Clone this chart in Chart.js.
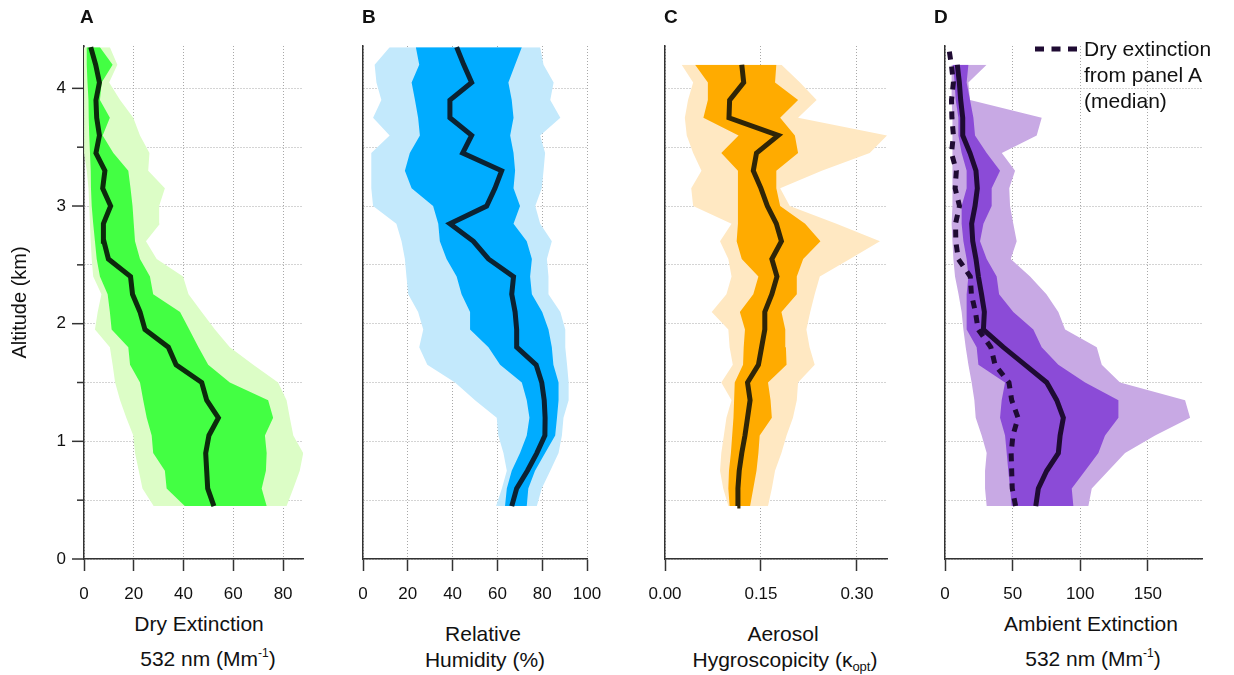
<!DOCTYPE html>
<html>
<head>
<meta charset="utf-8">
<script src="https://cdn.jsdelivr.net/npm/chart.js@4.4.1/dist/chart.umd.min.js"></script>
<style>
  body { margin: 0; background: #fff; }
  #wrap { position: relative; width: 1234px; height: 675px; overflow: hidden;
          font-family: "Liberation Sans", Arial, sans-serif; color: #111; }
  canvas { position: absolute; top: 0; }
  .letter { position: absolute; top: 6px; font-weight: bold; font-size: 19px; line-height: 22px; }
  .xt { position: absolute; width: 320px; text-align: center; font-size: 21px; line-height: 24px; white-space: nowrap; }
  .xt sup { font-size: 12px; vertical-align: 9px; line-height: 0; }
  .xt sub { font-size: 13px; vertical-align: -4px; line-height: 0; }
  .leg { position: absolute; left: 1084px; font-size: 21px; line-height: 24px; white-space: nowrap; }
</style>
</head>
<body>
<div id="wrap">
  <canvas id="chartA" width="323" height="610" style="left:0px"></canvas>
  <canvas id="chartB" width="284" height="610" style="left:333px"></canvas>
  <canvas id="chartC" width="272" height="610" style="left:635px"></canvas>
  <canvas id="chartD" width="307" height="610" style="left:915px"></canvas>

  <div class="letter" style="left:80px">A</div>
  <div class="letter" style="left:362px">B</div>
  <div class="letter" style="left:664px">C</div>
  <div class="letter" style="left:934px">D</div>

  <div class="xt" style="left:39px; top:612px">Dry Extinction</div>
  <div class="xt" style="left:48px; top:647px">532 nm (Mm<sup>-1</sup>)</div>
  <div class="xt" style="left:323px; top:622px">Relative</div>
  <div class="xt" style="left:325px; top:648px">Humidity (%)</div>
  <div class="xt" style="left:623px; top:622px">Aerosol</div>
  <div class="xt" style="left:625px; top:648px">Hygroscopicity (κ<sub>opt</sub>)</div>
  <div class="xt" style="left:931px; top:612px">Ambient Extinction</div>
  <div class="xt" style="left:933px; top:647px">532 nm (Mm<sup>-1</sup>)</div>

  <svg style="position:absolute; left:1030px; top:40px" width="52" height="18">
    <line x1="5" y1="9" x2="47" y2="9" stroke="#1f0b33" stroke-width="5" stroke-dasharray="9,7.5"></line>
  </svg>
  <div class="leg" style="top:37px">Dry extinction</div>
  <div class="leg" style="top:63px">from panel A</div>
  <div class="leg" style="top:89px">(median)</div>
</div>

<script>
/* altitude bins (km), bottom to top */
const altitude_km = [0.45, 0.6, 0.75, 0.9, 1.05, 1.2, 1.35, 1.5, 1.65, 1.8, 1.95, 2.1, 2.25,
  2.4, 2.55, 2.7, 2.85, 3.0, 3.15, 3.3, 3.45, 3.6, 3.75, 3.9, 4.05, 4.2, 4.35];

/* A: dry extinction, Mm-1 */
const dry_median = [52.2, 49.7, 49.3, 48.9, 50.2, 54, 49.3, 47.3, 37, 33.9, 24.5, 22.5, 19.5,
  18.7, 9.8, 8.0, 7.8, 10.7, 7.5, 8.4, 4.8, 6.2, 5.1, 4.8, 6.2, 4.7, 2.7];
const dry_p25 = [40.5, 33.2, 32.5, 27.8, 27.2, 25.2, 23.8, 22.5, 18.5, 17.8, 11.1, 10.4, 9.5,
  6.4, 5.1, 4.4, 3.7, 3.1, 2.8, 2.7, 2.4, 2.1, 1.9, 1.8, 1.4, 1.1, 1.1];
const dry_p75 = [73.4, 71.4, 73.1, 73.4, 72.7, 76, 74, 58.6, 49.9, 46, 42.3, 38.6, 27.8,
  26.5, 22.5, 20.5, 20, 19.5, 18.7, 17.8, 11.8, 7.5, 10.4, 6.4, 7.1, 11.5, 6.4];
const dry_p10 = [28, 23.5, 22, 20.5, 19.8, 17, 14.5, 12.5, 11.5, 10.4, 4.4, 5.5, 7,
  3.7, 3.1, 2.7, 2.4, 2.1, 1.8, 1.1, 0.4, 0, 0, 0, 0, 0, 0];
const dry_p90 = [81.4, 84.1, 86.7, 88.1, 84.1, 82.7, 81.4, 78, 68, 58.6, 52.6, 47.3, 42,
  39.8, 29.2, 24.9, 30.5, 30.2, 32.5, 25.8, 26.3, 22.5, 19.8, 14.5, 10.1, 13.4, 10.4];

/* B: relative humidity, % */
const rh_median = [66.4, 68.6, 73.4, 77.6, 81.2, 81.3, 80.9, 79.8, 77.3, 68.6, 68.6, 67.9, 66.4,
  67.2, 56, 49.3, 38.8, 55.2, 58.9, 61.9, 44.5, 48.5, 38.8, 38.8, 48.5, 45, 41.8];
const rh_p25 = [63.4, 64.2, 66.4, 70.1, 73.1, 74.3, 73.1, 70.9, 61.2, 56, 47.8, 47.8, 44,
  41.8, 37.3, 34.3, 33.6, 31.3, 21.7, 18.7, 20.9, 25.4, 24.6, 23.2, 21.7, 25.1, 23.6];
const rh_p75 = [73.1, 73.8, 76.8, 81.3, 85.8, 86.6, 87.3, 87.3, 85, 84.3, 82.8, 80, 75.4,
  74.6, 75.4, 73.1, 67.2, 70.1, 67.2, 67.9, 67.2, 65.7, 67.2, 66.4, 64.9, 67.9, 70.9];
const rh_p10 = [59.4, 62, 64.2, 62.7, 60.4, 59.7, 50, 41.1, 28.7, 25.1, 26.9, 24.6, 20.2,
  19.4, 18.7, 17.2, 14.9, 4.5, 3.7, 3.7, 3.7, 11.9, 4.5, 8.2, 6, 5.2, 11.9];
const rh_p90 = [77.6, 79.8, 83.6, 87.3, 88.8, 89.5, 91.8, 91.8, 91.1, 90.3, 90.3, 88.1, 82.8,
  82.8, 82.1, 84.3, 79.1, 76.9, 79.8, 80.6, 81.3, 79.1, 88.1, 83.6, 85.1, 80.6, 79.1];

/* C: aerosol hygroscopicity kappa_opt */
const kappa_median = [0.113, 0.114, 0.116, 0.120, 0.125, 0.129, 0.133, 0.129, 0.146, 0.151, 0.156, 0.156, 0.167,
  0.175, 0.167, 0.182, 0.174, 0.160, 0.150, 0.138, 0.143, 0.177, 0.100, 0.101, 0.123, 0.120, null];
const kappa_p25 = [0.101, 0.099, 0.100, 0.103, 0.105, 0.107, 0.108, 0.109, 0.122, 0.123, 0.125, 0.117, 0.138,
  0.146, 0.120, 0.112, 0.114, 0.114, 0.114, 0.114, 0.088, 0.115, 0.060, 0.067, 0.067, 0.047, null];
const kappa_p75 = [0.133, 0.138, 0.143, 0.146, 0.148, 0.167, 0.165, 0.161, 0.190, 0.189, 0.188, 0.182, 0.206,
  0.206, 0.216, 0.243, 0.219, 0.180, 0.174, 0.174, 0.208, 0.203, 0.180, 0.208, 0.172, 0.174, null];
const kappa_p10 = [0.099, 0.091, 0.086, 0.088, 0.092, 0.096, 0.104, 0.088, 0.106, 0.101, 0.099, 0.073, 0.096,
  0.104, 0.099, 0.086, 0.104, 0.044, 0.041, 0.057, 0.044, 0.034, 0.031, 0.036, 0.044, 0.026, null];
const kappa_p90 = [0.161, 0.167, 0.172, 0.182, 0.190, 0.200, 0.206, 0.208, 0.234, 0.226, 0.221, 0.227, 0.234,
  0.242, 0.289, 0.336, 0.268, 0.195, 0.180, 0.245, 0.320, 0.347, 0.208, 0.237, 0.211, 0.182, null];

/* D: ambient extinction, Mm-1 */
const amb_median = [67.1, 69, 75.2, 83.8, 85.1, 87.5, 82.6, 75.2, 59.2, 43.1, 28.4, 29.1, 27,
  24.7, 22.9, 20.5, 19.7, 22.2, 23.9, 22.9, 18.5, 13.1, 13.1, 11.6, 10.6, 9.1, null];
const amb_p25 = [49.3, 48.1, 46.8, 45.6, 44.4, 40.7, 41.9, 44.4, 24.7, 23.4, 16, 16, 16,
  17.3, 16, 13.6, 12.3, 12.3, 16, 16, 12.3, 9.9, 9.9, 7.9, 7.1, 5.9, null];
const amb_p75 = [94.9, 93.7, 103.6, 113.4, 118.3, 128.2, 128.2, 103.6, 83.8, 71.5, 65.3, 50.5, 40,
  38.2, 30.8, 25.9, 28.4, 34.5, 34.5, 40.7, 30.8, 22.2, 21, 18.5, 16, 17.3, null];
const amb_p10 = [30.8, 29.6, 29.6, 30.8, 27.1, 22.7, 21.7, 19.7, 17.3, 15.3, 13.6, 12.3, 10,
  7.4, 6.2, 5.5, 4.9, 5.5, 5.5, 5.5, 5.5, 5.5, 5.5, 4.9, 4.9, 4.9, null];
const amb_p90 = [106, 108.5, 120.8, 133.1, 155.3, 181.2, 177.5, 129.4, 115.9, 112.2, 88.8, 83.8, 75,
  62.9, 48.6, 53, 50.5, 48.1, 47.5, 51.8, 42, 67.8, 71.5, 18.5, 17.3, 30.8, null];

/* axis ranges and tick steps */
const y_max_km = 4.36;
const x_ranges = { A: [0, 88, 20], B: [0, 100, 20], C: [0, 0.347, 0.15], D: [0, 190, 50] };

const font_family = '"Liberation Sans", Arial, sans-serif';
const axis_color = '#333';
const grid_color = '#a8a8a8';

const isWhole = (v) => Math.abs(v - Math.round(v)) < 1e-6;

const toPoints = (vals) =>
  altitude_km.map((a, i) => ({ x: vals[i], y: a })).filter((p) => p.x !== null);

const bandSets = (low, high, color, order) => [
  { data: toPoints(low), borderWidth: 0, borderColor: 'transparent', pointRadius: 0, fill: false, order: order },
  { data: toPoints(high), borderWidth: 0, borderColor: 'transparent', pointRadius: 0,
    backgroundColor: color, fill: '-1', order: order },
];

// major/minor tick marks on the altitude axis of panel A
const yTickMarks = {
  id: 'yTickMarks',
  afterDraw(chart) {
    const s = chart.scales.y;
    const ctx = chart.ctx;
    ctx.save();
    ctx.strokeStyle = axis_color;
    ctx.lineWidth = 1.5;
    s.ticks.forEach((t) => {
      const py = s.getPixelForValue(t.value);
      const len = isWhole(t.value) ? 12 : 7;
      ctx.beginPath();
      ctx.moveTo(s.right - len, py);
      ctx.lineTo(s.right, py);
      ctx.stroke();
    });
    ctx.restore();
  }
};

const makePanel = (canvas_id, range, yWidth, showY, padRight, datasets, fmt) => {
  const ctx = document.getElementById(canvas_id).getContext('2d');
  return new Chart(ctx, {
    type: 'line',
    data: { datasets: datasets },
    plugins: showY ? [yTickMarks] : [],
    options: {
      responsive: false,
      animation: false,
      events: [],
      indexAxis: 'y',
      layout: { padding: { top: 46, right: padRight, bottom: 0, left: 0 } },
      elements: { line: { tension: 0 }, point: { radius: 0 } },
      plugins: { legend: { display: false }, tooltip: { enabled: false } },
      scales: {
        x: {
          type: 'linear', position: 'bottom',
          min: range[0], max: range[1],
          afterFit: (s) => { s.height = 51; s.paddingLeft = 0; s.paddingRight = 0; },
          ticks: {
            stepSize: range[2], includeBounds: false, autoSkip: false, maxRotation: 0,
            padding: 13, color: '#111', font: { family: font_family, size: 17 },
            callback: fmt
          },
          grid: { color: grid_color, lineWidth: 1, tickLength: 12, tickColor: axis_color,
                  tickWidth: 1.5, tickBorderDash: [] },
          border: { display: true, color: axis_color, width: 1.5, dash: [1, 2] }
        },
        y: {
          type: 'linear', position: 'left',
          min: 0, max: y_max_km,
          afterFit: (s) => { s.width = yWidth; },
          ticks: {
            display: showY, stepSize: 0.5, includeBounds: false, autoSkip: false,
            padding: 18, color: '#111', font: { family: font_family, size: 17 },
            callback: (v) => (isWhole(v) ? Math.round(v) : '')
          },
          grid: { color: grid_color, lineWidth: 1, drawTicks: false },
          border: { display: true, color: axis_color, width: 1.5, dash: [1, 2] },
          title: { display: showY, text: 'Altitude (km)', color: '#111',
                   font: { family: font_family, size: 20 }, padding: { top: 8, bottom: 0 } }
        }
      }
    }
  });
};

const medianSet = (vals, color) => ({
  data: toPoints(vals), borderColor: color, borderWidth: 5, pointRadius: 0, fill: false, order: 1
});

/* main */
makePanel('chartA', x_ranges.A, 84, true, 20, [
  ...bandSets(dry_p10, dry_p90, '#dcfdc6', 5),
  ...bandSets(dry_p25, dry_p75, '#43ff43', 4),
  medianSet(dry_median, '#0c2a0c')
], (v) => v);

makePanel('chartB', x_ranges.B, 30, false, 30, [
  ...bandSets(rh_p10, rh_p90, '#c3e9fc', 5),
  ...bandSets(rh_p25, rh_p75, '#00acff', 4),
  medianSet(rh_median, '#0b2232')
], (v) => v);

makePanel('chartC', x_ranges.C, 30, false, 20, [
  ...bandSets(kappa_p10, kappa_p90, '#ffe8c2', 5),
  ...bandSets(kappa_p25, kappa_p75, '#ffab00', 4),
  medianSet(kappa_median, '#2f2507')
], (v) => Number(v).toFixed(2));

makePanel('chartD', x_ranges.D, 30, false, 20, [
  ...bandSets(amb_p10, amb_p90, '#c8a9e4', 5),
  ...bandSets(amb_p25, amb_p75, '#8b4bd7', 4),
  { data: toPoints(dry_median), borderColor: '#1f0b33', borderWidth: 5, borderDash: [8, 7],
    pointRadius: 0, fill: false, order: 2 },
  medianSet(amb_median, '#1f0b33')
], (v) => v);
</script>
</body>
</html>
